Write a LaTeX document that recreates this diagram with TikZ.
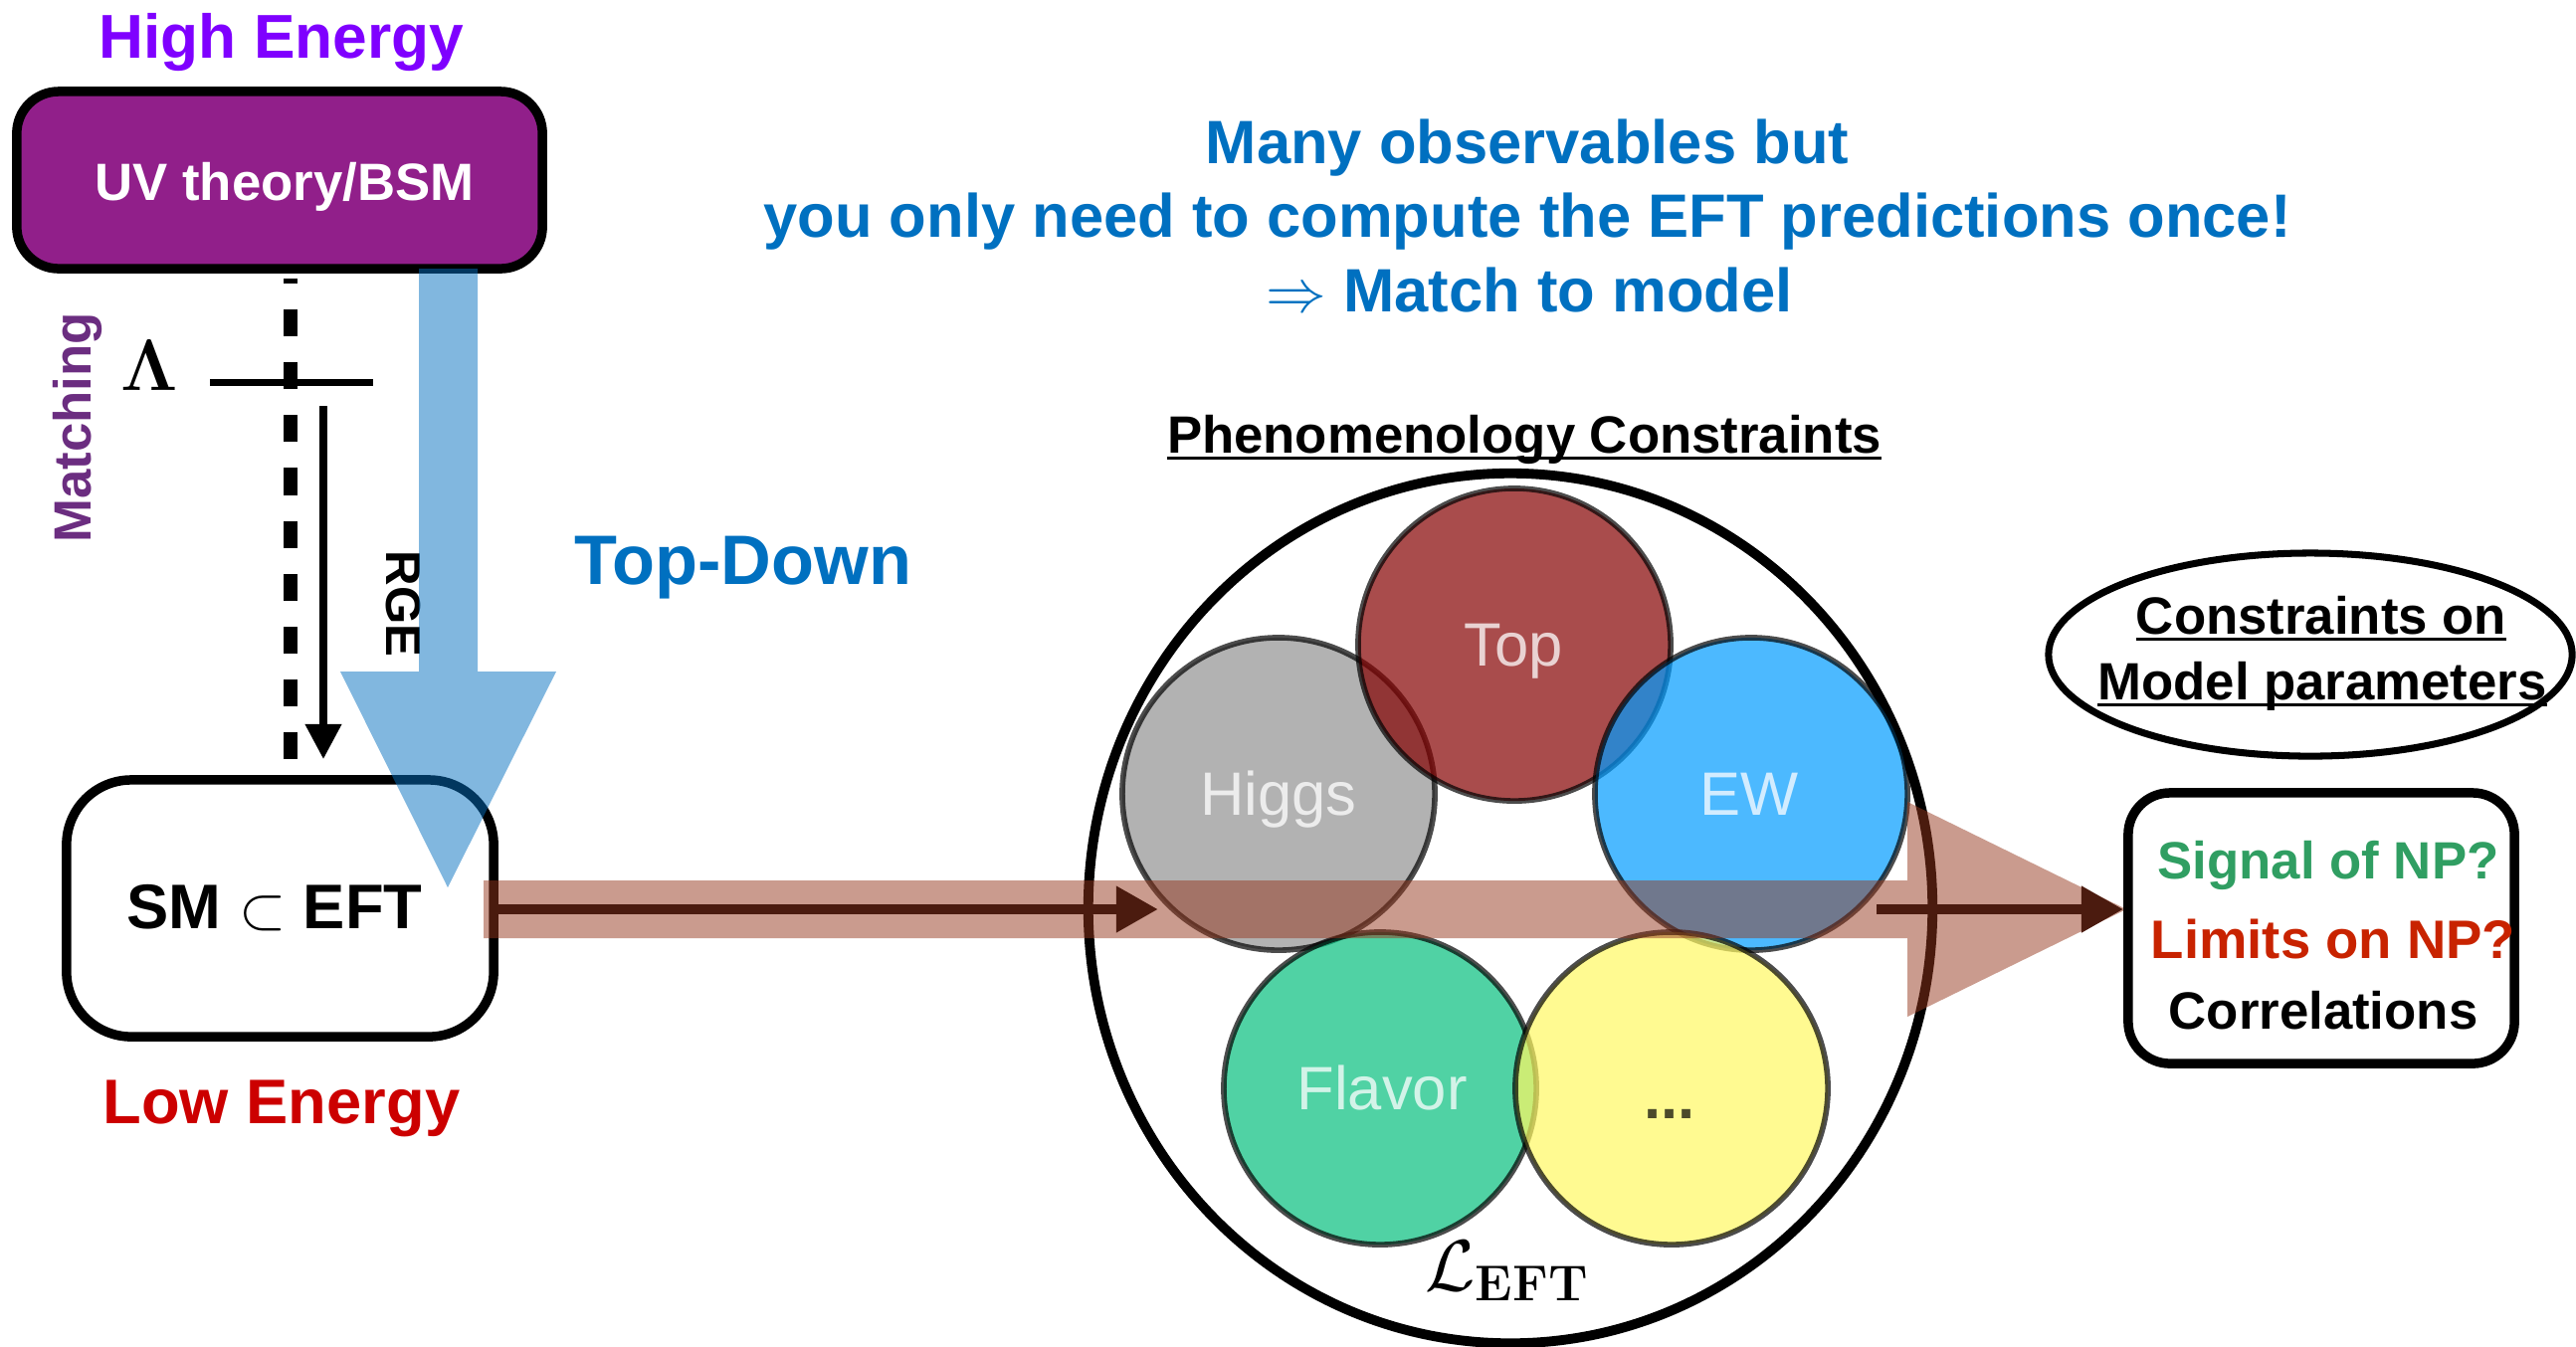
\documentclass[tikz,border=0pt]{standalone}
\usepackage[no-math]{fontspec}
\setmainfont{Liberation Sans}
\usetikzlibrary{arrows.meta,shapes.geometric}
\newcommand{\myfs}[1]{\fontsize{#1}{#1}\selectfont}
\definecolor{hiE}{RGB}{127,0,255}
\definecolor{uvfill}{RGB}{145,31,138}
\definecolor{matchc}{RGB}{107,45,128}
\definecolor{tdblue}{RGB}{0,112,192}
\definecolor{arrblue}{RGB}{4,111,191}
\definecolor{lowred}{RGB}{204,0,0}
\definecolor{bandbrown}{RGB}{149,55,29}
\definecolor{darkbrown}{RGB}{75,27,15}
\definecolor{topc}{RGB}{132,0,0}
\definecolor{higgsc}{RGB}{145,145,145}
\definecolor{ewc}{RGB}{0,155,255}
\definecolor{flavc}{RGB}{5,191,126}
\definecolor{yelc}{RGB}{255,248,98}
\definecolor{sigc}{RGB}{48,158,98}
\definecolor{limc}{RGB}{200,35,0}
\begin{document}
\begin{tikzpicture}[x=0.01cm,y=-0.01cm,
  txt/.style={inner sep=0pt, outer sep=0pt, anchor=base},
  boldtxt/.style={txt, font=\bfseries\myfs{#1}},
  roundbox/.style={draw=black, line width=2.7pt, inner sep=0pt},
  ring/.style={circle, minimum size=3.14cm, inner sep=0pt, draw=black, line width=1.6pt, opacity=0.7},
  ctext/.style={txt, text=white, text opacity=0.75, font=\myfs{17.5}},
  darkarr/.style={draw=darkbrown, line width=3pt, -{Triangle[length=12pt,width=12.5pt]}},
  uline/.style={line width=1pt}]
\useasboundingbox (0,0) rectangle (2589,1353);

% ---------- left part ----------
\node[boldtxt=17.7, text=hiE] (hi) at (283,58) {High Energy};
\node[roundbox, fill=uvfill, rounded corners=0.42cm, minimum width=5.28cm, minimum height=1.78cm] (uv) at (281,181) {};
\node[boldtxt=15, text=white] (uvt) at (286,201) {UV theory/BSM};

\node[roundbox, rounded corners=0.65cm, minimum width=4.29cm, minimum height=2.58cm] (sm) at (281.5,913) {};
\node[boldtxt=18] (smt) at (276,933) {SM {\mdseries$\subset$} EFT};
\node[boldtxt=18, text=lowred] (low) at (283,1129) {Low Energy};

\coordinate (mtop) at (292,280);
\coordinate (mbot) at (292,763);
\draw[line width=4pt, dash pattern=on 7.7pt off 7.4pt] (mbot) -- (mtop);
\coordinate (lamL) at (211,384);
\coordinate (lamR) at (375,384);
\draw[line width=2pt] (lamL) -- (lamR);
\node[txt, font=\myfs{21}] (lam) at (150,392) {$\mathbf{\Lambda}$};
\node[boldtxt=15, text=matchc, rotate=90] (match) at (91,430) {Matching};

\coordinate (rgetop) at (325,408);
\coordinate (rgebot) at (325,763);
\draw[line width=2pt, -{Triangle[length=10pt,width=10pt]}] (rgetop) -- (rgebot);
\node[boldtxt=14, rotate=-90] (rge) at (388,607) {RGE};

% blue top-down arrow
\fill[arrblue, fill opacity=0.5] (421,270) -- (421,675) -- (342,675) -- (450,892) -- (559,675) -- (480,675) -- (480,270) -- cycle;
\node[boldtxt=20, text=tdblue] (td) at (747,587) {Top-Down};

% ---------- top text ----------
\node[boldtxt=17.5, text=tdblue] (l1) at (1535,164) {Many observables but};
\node[boldtxt=17.5, text=tdblue] (l2) at (1535,238) {you only need to compute the EFT predictions once!};
\node[boldtxt=17.5, text=tdblue] (l3) at (1537,313) {$\Rightarrow$ Match to model};

\node[boldtxt=15] (ph) at (1532,455) {Phenomenology Constraints};
\draw[uline] ([yshift=-1.5pt]ph.base west) -- ([yshift=-1.5pt]ph.base east);

% ---------- EFT ellipse ----------
\node[draw, ellipse, line width=2.8pt, minimum width=8.48cm, minimum height=8.74cm, inner sep=0pt] (big) at (1518,913) {};
\node[ring, fill=higgsc] (higgs) at (1285,798) {};
\node[ring, fill=topc] (top) at (1522,648) {};
\node[ring, fill=ewc] (ew) at (1760,798) {};
\node[ring, fill=flavc] (flav) at (1387,1094) {};
\node[ring, fill=yelc] (dots) at (1680,1094) {};
\node[ctext] (higgsl) at (1285,819) {Higgs};
\node[ctext] (topl) at (1521,669) {Top};
\node[ctext] (ewl) at (1758,819) {EW};
\node[ctext] (flavl) at (1389,1115) {Flavor};
\node[txt, text=black, text opacity=0.7, font=\bfseries\myfs{17.5}] (dotsl) at (1678,1124) {...};
\node[txt, font=\myfs{20}] (left) at (1515,1297) {$\mathcal{L}_{\mathbf{EFT}}$};

% ---------- brown band ----------
\fill[bandbrown, fill opacity=0.5] (486,885) -- (1917,885) -- (1917,806) -- (2137,914) -- (1917,1022) -- (1917,943) -- (486,943) -- cycle;

% ---------- right part ----------
\node[draw, ellipse, line width=2pt, minimum width=5.26cm, minimum height=2.04cm, inner sep=0pt] (cons) at (2322,658) {};
\node[boldtxt=15] (c1) at (2333,637) {Constraints on};
\node[boldtxt=15] (c2) at (2334,703) {Model parameters};
\draw[uline] ([yshift=-1.6pt]c1.base west) -- ([yshift=-1.6pt]c1.base east);
\draw[uline] ([yshift=-1.6pt]c2.base west) -- ([yshift=-1.6pt]c2.base east);

\node[roundbox, rounded corners=0.42cm, minimum width=3.88cm, minimum height=2.72cm] (res) at (2333,933) {};
\node[boldtxt=15, text=sigc] (r1) at (2340,883) {Signal of NP?};
\node[boldtxt=15.5, text=limc] (r2) at (2345,963) {Limits on NP?};
\node[boldtxt=15] (r3) at (2335,1034) {Correlations};

% ---------- dark arrows ----------
\coordinate (a1e) at (1164,914);
\draw[darkarr] (sm.east |- a1e) -- (a1e);
\coordinate (a2s) at (1886,914);
\draw[darkarr] (a2s) -- (a2s -| res.west);
\end{tikzpicture}
\end{document}
